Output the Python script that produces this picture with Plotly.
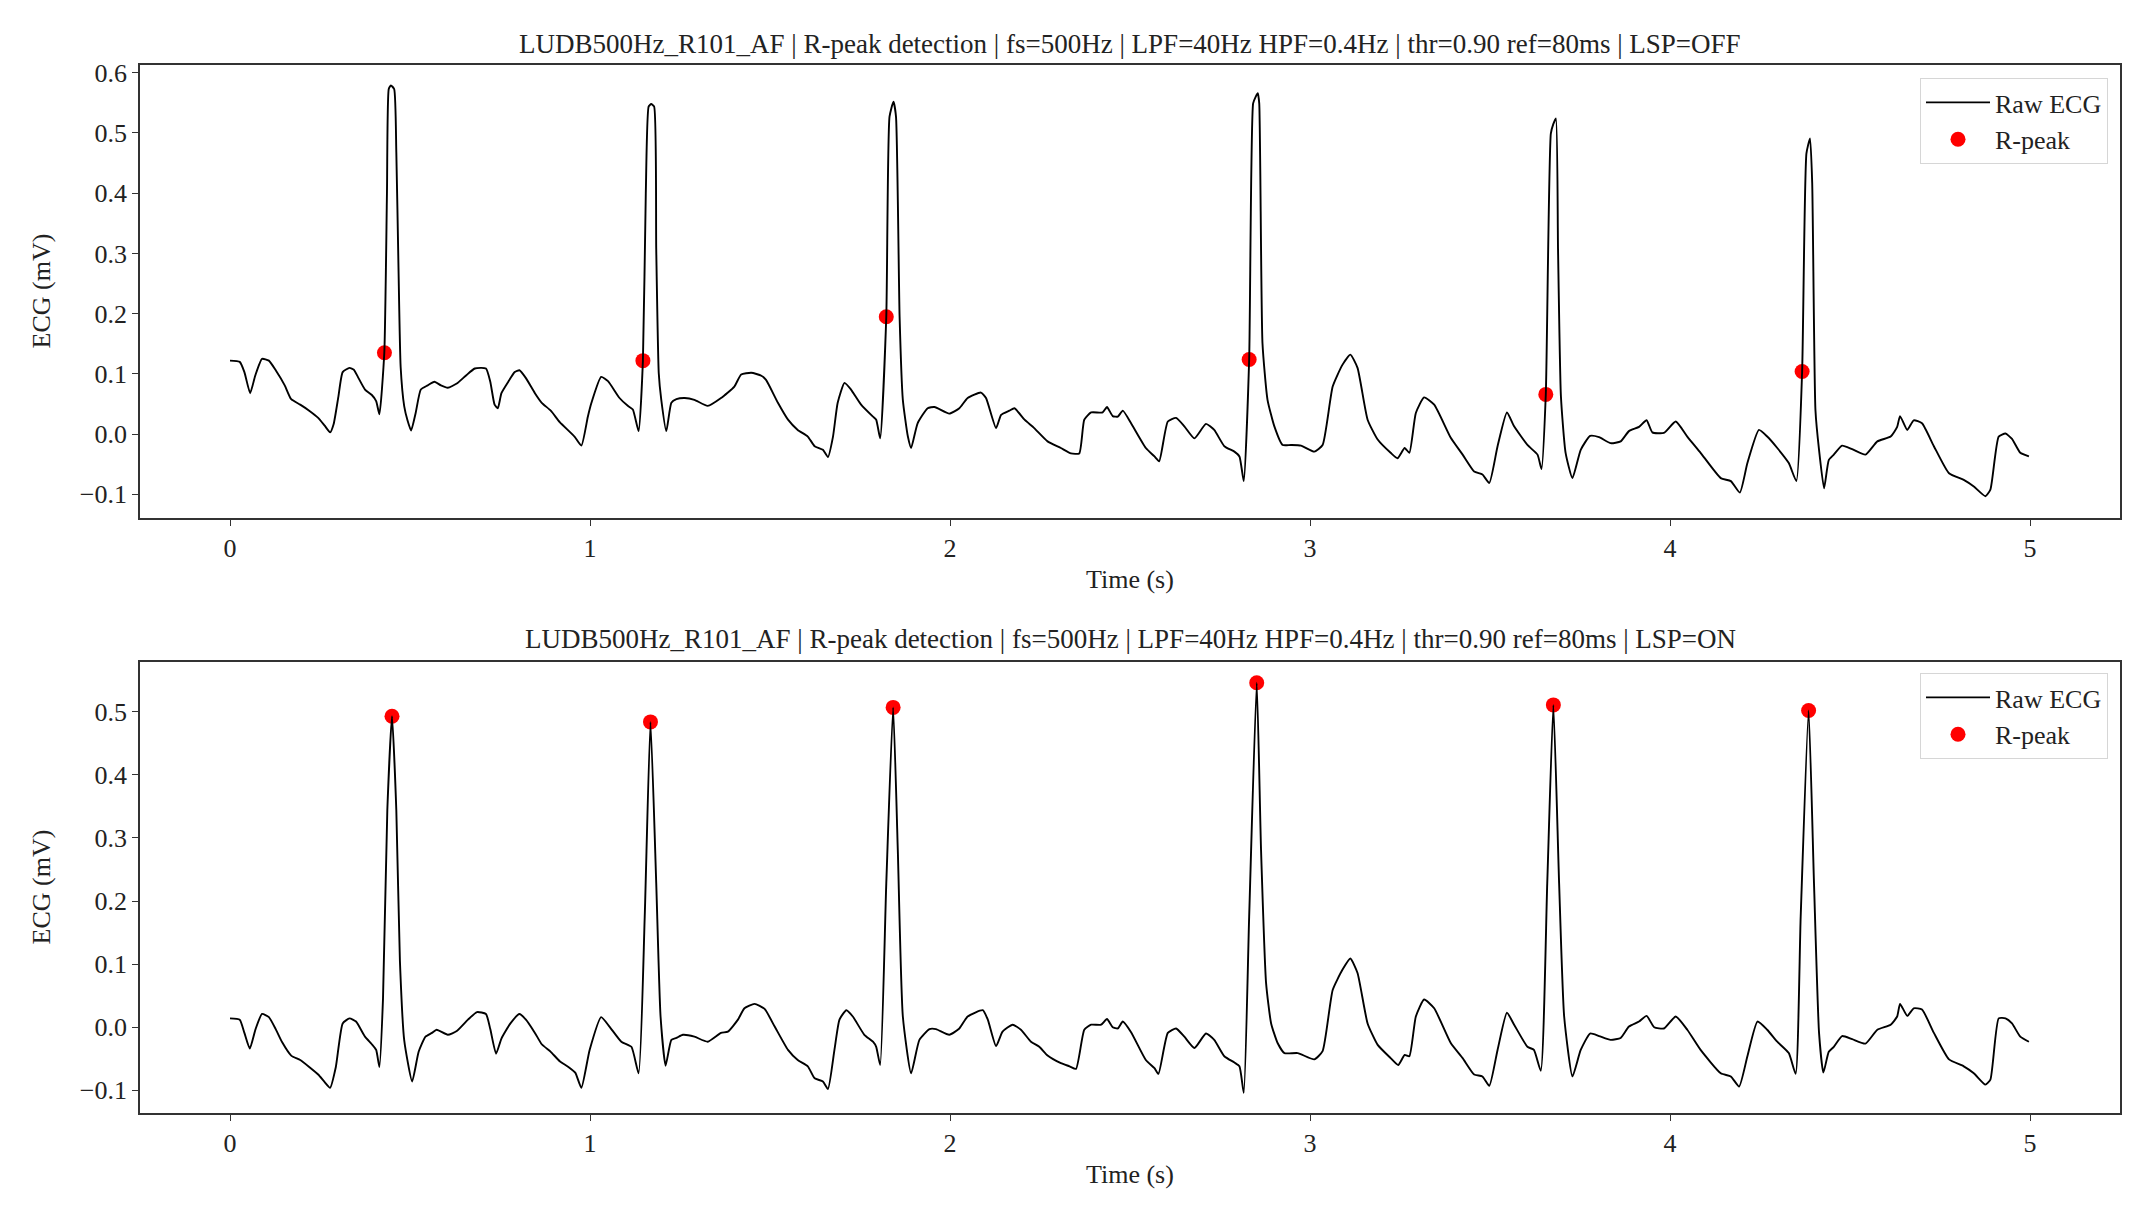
import plotly.graph_objects as go

# ---------------- data ----------------
title_top = "LUDB500Hz_R101_AF | R-peak detection | fs=500Hz | LPF=40Hz HPF=0.4Hz | thr=0.90 ref=80ms | LSP=OFF"
title_bot = "LUDB500Hz_R101_AF | R-peak detection | fs=500Hz | LPF=40Hz HPF=0.4Hz | thr=0.90 ref=80ms | LSP=ON"

t_top = [0.000, 0.027, 0.040, 0.056, 0.070, 0.089, 0.108, 0.127, 0.152, 0.170, 0.195, 0.220, 0.245, 0.263,
         0.278, 0.288, 0.301, 0.313, 0.332, 0.344, 0.357, 0.375, 0.394, 0.406, 0.415, 0.4286, 0.436, 0.441,
         0.447, 0.456, 0.462, 0.468, 0.474, 0.484, 0.493, 0.503, 0.516, 0.530, 0.549, 0.568, 0.586, 0.605,
         0.630, 0.655, 0.680, 0.711, 0.723, 0.735, 0.744, 0.754, 0.773, 0.791, 0.804, 0.822, 0.847, 0.866,
         0.891, 0.916, 0.957, 0.976, 0.994, 1.004, 1.031, 1.050, 1.082, 1.105, 1.119, 1.135, 1.147, 1.155,
         1.163, 1.170, 1.178, 1.184, 1.191, 1.198, 1.212, 1.226, 1.240, 1.263, 1.290, 1.327, 1.364, 1.401,
         1.420, 1.448, 1.476, 1.489, 1.522, 1.550, 1.577, 1.605, 1.624, 1.647, 1.661, 1.675, 1.688, 1.707,
         1.725, 1.753, 1.786, 1.795, 1.806, 1.823, 1.832, 1.843, 1.850, 1.860, 1.869, 1.883, 1.892, 1.910,
         1.938, 1.957, 1.998, 2.026, 2.049, 2.086, 2.100, 2.128, 2.142, 2.165, 2.179, 2.207, 2.234, 2.271,
         2.308, 2.336, 2.359, 2.373, 2.392, 2.424, 2.436, 2.452, 2.466, 2.480, 2.503, 2.544, 2.568, 2.581,
         2.605, 2.628, 2.651, 2.679, 2.711, 2.734, 2.762, 2.790, 2.804, 2.816, 2.831, 2.842, 2.849, 2.855,
         2.859, 2.868, 2.882, 2.901, 2.924, 2.947, 2.975, 3.012, 3.035, 3.063, 3.090, 3.112, 3.132, 3.160,
         3.188, 3.224, 3.243, 3.263, 3.276, 3.294, 3.317, 3.345, 3.391, 3.424, 3.456, 3.479, 3.498, 3.521,
         3.547, 3.567, 3.604, 3.632, 3.643, 3.655, 3.669, 3.676, 3.683, 3.689, 3.697, 3.710, 3.729, 3.752,
         3.778, 3.803, 3.835, 3.863, 3.886, 3.914, 3.935, 3.951, 3.983, 4.016, 4.048, 4.085, 4.141, 4.169,
         4.194, 4.215, 4.247, 4.270, 4.298, 4.330, 4.351, 4.367, 4.379, 4.389, 4.395, 4.404, 4.414, 4.428,
         4.441, 4.455, 4.478, 4.506, 4.543, 4.576, 4.613, 4.631, 4.639, 4.659, 4.677, 4.700, 4.733, 4.775,
         4.816, 4.844, 4.876, 4.890, 4.913, 4.932, 4.950, 4.973, 4.997]
v_top = [0.122, 0.120, 0.103, 0.068, 0.097, 0.125, 0.122, 0.106, 0.081, 0.058, 0.049, 0.039, 0.027, 0.014,
         0.003, 0.017, 0.062, 0.103, 0.110, 0.107, 0.093, 0.074, 0.065, 0.055, 0.033, 0.135, 0.400, 0.573,
         0.579, 0.573, 0.468, 0.277, 0.112, 0.046, 0.023, 0.006, 0.036, 0.074, 0.081, 0.087, 0.081, 0.077,
         0.084, 0.097, 0.109, 0.109, 0.087, 0.049, 0.043, 0.068, 0.087, 0.103, 0.106, 0.093, 0.068, 0.052,
         0.039, 0.020, -0.004, -0.019, 0.029, 0.052, 0.095, 0.088, 0.060, 0.047, 0.041, 0.005, 0.122, 0.400,
         0.544, 0.548, 0.544, 0.306, 0.101, 0.057, 0.005, 0.052, 0.058, 0.060, 0.057, 0.047, 0.060, 0.079,
         0.099, 0.102, 0.097, 0.090, 0.052, 0.024, 0.007, -0.004, -0.020, -0.026, -0.038, -0.004, 0.052, 0.085,
         0.074, 0.049, 0.029, 0.024, -0.007, 0.195, 0.527, 0.552, 0.527, 0.195, 0.057, -0.004, -0.023, 0.018,
         0.043, 0.045, 0.034, 0.043, 0.060, 0.069, 0.060, 0.010, 0.032, 0.039, 0.043, 0.024, 0.010, -0.012,
         -0.023, -0.032, -0.032, 0.024, 0.036, 0.036, 0.045, 0.030, 0.029, 0.039, 0.018, -0.023, -0.037, -0.045,
         0.021, 0.027, 0.013, -0.007, 0.017, 0.007, -0.020, -0.029, -0.037, -0.078, 0.124, 0.549, 0.560, 0.566,
         0.549, 0.151, 0.057, 0.013, -0.018, -0.018, -0.019, -0.029, -0.018, 0.079, 0.115, 0.132, 0.110, 0.024,
         -0.009, -0.031, -0.040, -0.023, -0.031, 0.035, 0.061, 0.049, -0.006, -0.034, -0.062, -0.067, -0.081, -0.020,
         0.036, 0.013, -0.018, -0.034, -0.058, 0.066, 0.499, 0.515, 0.524, 0.306, 0.063, -0.031, -0.073, -0.026,
         -0.003, -0.005, -0.015, -0.012, 0.005, 0.012, 0.023, 0.003, 0.002, 0.021, -0.004, -0.031, -0.073, -0.078,
         -0.097, -0.048, 0.007, -0.004, -0.023, -0.048, -0.078, 0.104, 0.466, 0.491, 0.417, 0.040, -0.026, -0.090,
         -0.043, -0.034, -0.019, -0.025, -0.034, -0.012, -0.004, 0.012, 0.030, 0.007, 0.023, 0.018, -0.020, -0.065,
         -0.076, -0.087, -0.103, -0.092, -0.004, 0.001, -0.008, -0.031, -0.037]

t_bot = [0.000, 0.027, 0.040, 0.055, 0.071, 0.089, 0.108, 0.127, 0.145, 0.170, 0.195, 0.220, 0.245, 0.263,
         0.278, 0.294, 0.313, 0.332, 0.350, 0.375, 0.394, 0.406, 0.415, 0.425, 0.437, 0.450, 0.462, 0.472,
         0.484, 0.506, 0.524, 0.543, 0.561, 0.574, 0.605, 0.630, 0.661, 0.686, 0.711, 0.723, 0.739, 0.754,
         0.779, 0.804, 0.822, 0.847, 0.866, 0.891, 0.916, 0.940, 0.959, 0.976, 0.999, 1.031, 1.054, 1.087,
         1.115, 1.135, 1.152, 1.168, 1.184, 1.196, 1.210, 1.226, 1.240, 1.258, 1.290, 1.327, 1.364, 1.383,
         1.411, 1.429, 1.457, 1.485, 1.513, 1.550, 1.577, 1.605, 1.624, 1.647, 1.661, 1.679, 1.693, 1.712,
         1.730, 1.762, 1.786, 1.795, 1.806, 1.823, 1.842, 1.855, 1.869, 1.892, 1.915, 1.943, 1.961, 1.998,
         2.026, 2.049, 2.091, 2.105, 2.128, 2.146, 2.174, 2.197, 2.225, 2.248, 2.271, 2.308, 2.332, 2.350,
         2.373, 2.392, 2.420, 2.436, 2.452, 2.466, 2.480, 2.503, 2.544, 2.568, 2.579, 2.605, 2.628, 2.651,
         2.679, 2.711, 2.734, 2.762, 2.790, 2.804, 2.816, 2.831, 2.852, 2.864, 2.878, 2.892, 2.910, 2.929,
         2.966, 3.012, 3.035, 3.063, 3.090, 3.112, 3.132, 3.160, 3.188, 3.224, 3.245, 3.263, 3.276, 3.294,
         3.317, 3.345, 3.391, 3.424, 3.456, 3.479, 3.498, 3.521, 3.547, 3.567, 3.604, 3.622, 3.641, 3.659,
         3.676, 3.692, 3.706, 3.729, 3.752, 3.778, 3.803, 3.835, 3.863, 3.886, 3.914, 3.935, 3.956, 3.983,
         4.016, 4.048, 4.085, 4.141, 4.169, 4.192, 4.215, 4.243, 4.270, 4.298, 4.330, 4.349, 4.363, 4.385,
         4.400, 4.414, 4.426, 4.441, 4.455, 4.478, 4.506, 4.543, 4.576, 4.613, 4.631, 4.639, 4.659, 4.677,
         4.700, 4.733, 4.775, 4.816, 4.844, 4.876, 4.890, 4.913, 4.932, 4.950, 4.973, 4.997]
v_bot = [0.014, 0.012, -0.009, -0.034, -0.003, 0.021, 0.016, -0.003, -0.024, -0.045, -0.052, -0.063, -0.075, -0.087,
         -0.096, -0.063, 0.006, 0.014, 0.009, -0.015, -0.027, -0.036, -0.063, 0.045, 0.344, 0.493, 0.344, 0.105,
         -0.021, -0.086, -0.039, -0.015, -0.009, -0.004, -0.012, -0.006, 0.012, 0.024, 0.021, -0.003, -0.042, -0.018,
         0.006, 0.021, 0.012, -0.009, -0.027, -0.039, -0.054, -0.063, -0.072, -0.096, -0.036, 0.016, 0.001, -0.023,
         -0.031, -0.073, 0.175, 0.484, 0.228, 0.017, -0.061, -0.020, -0.017, -0.012, -0.015, -0.023, -0.009, -0.007,
         0.012, 0.030, 0.037, 0.029, 0.001, -0.036, -0.052, -0.062, -0.081, -0.086, -0.098, -0.036, 0.012, 0.027,
         0.017, -0.012, -0.023, -0.031, -0.060, 0.228, 0.507, 0.281, 0.017, -0.073, -0.020, -0.003, -0.003, -0.012,
         -0.002, 0.017, 0.027, 0.012, -0.030, -0.007, 0.004, -0.004, -0.023, -0.031, -0.045, -0.057, -0.062, -0.066,
         -0.004, 0.004, 0.004, 0.013, 0.000, -0.002, 0.009, -0.008, -0.052, -0.065, -0.074, -0.009, -0.002, -0.015,
         -0.033, -0.010, -0.020, -0.046, -0.056, -0.062, -0.104, 0.175, 0.546, 0.281, 0.070, 0.006, -0.025, -0.041,
         -0.041, -0.051, -0.038, 0.059, 0.091, 0.109, 0.086, 0.006, -0.028, -0.049, -0.060, -0.044, -0.046, 0.017,
         0.044, 0.030, -0.025, -0.049, -0.075, -0.078, -0.093, -0.036, 0.023, 0.004, -0.031, -0.036, -0.069, 0.228,
         0.511, 0.228, 0.017, -0.078, -0.036, -0.010, -0.014, -0.020, -0.017, 0.001, 0.009, 0.018, 0.000, -0.002,
         0.017, -0.004, -0.036, -0.073, -0.078, -0.094, -0.046, 0.009, -0.004, -0.023, -0.041, -0.074, 0.175, 0.502,
         0.228, -0.009, -0.072, -0.039, -0.031, -0.014, -0.019, -0.026, -0.004, 0.004, 0.017, 0.037, 0.018, 0.030,
         0.028, -0.009, -0.051, -0.062, -0.073, -0.091, -0.083, 0.014, 0.014, 0.006, -0.015, -0.023]

peak_t_off = [0.429, 1.147, 1.823, 2.831, 3.655, 4.367]
peak_v_off = [0.135, 0.122, 0.195, 0.124, 0.066, 0.104]
peak_t_on = [0.450, 1.168, 1.842, 2.852, 3.676, 4.385]
peak_v_on = [0.493, 0.484, 0.507, 0.546, 0.511, 0.502]

x_ticks = [0, 1, 2, 3, 4, 5]
y_ticks_top = [-0.1, 0.0, 0.1, 0.2, 0.3, 0.4, 0.5, 0.6]
y_ticks_bot = [-0.1, 0.0, 0.1, 0.2, 0.3, 0.4, 0.5]

# ---------------- styling ----------------
FONT = "Liberation Serif"
FS = 26
FS_TITLE = 27
TXT = "#222222"
AX = "#333333"

def fmt(v):
    s = f"{v:.1f}"
    return s.replace("-", "\u2212")

fig = go.Figure()

line_style = dict(color="black", width=1.9, shape="spline", smoothing=0.5)

# markers first so the line is drawn over them (as in the reference)
fig.add_trace(go.Scatter(x=peak_t_off, y=peak_v_off, mode="markers", name="R-peak",
                         marker=dict(color="#ff0000", size=15), xaxis="x", yaxis="y",
                         legend="legend", legendrank=2))
fig.add_trace(go.Scatter(x=t_top, y=v_top, mode="lines", name="Raw ECG",
                         line=line_style, xaxis="x", yaxis="y",
                         legend="legend", legendrank=1))
fig.add_trace(go.Scatter(x=peak_t_on, y=peak_v_on, mode="markers", name="R-peak",
                         marker=dict(color="#ff0000", size=15), xaxis="x2", yaxis="y2",
                         legend="legend2", legendrank=2))
fig.add_trace(go.Scatter(x=t_bot, y=v_bot, mode="lines", name="Raw ECG",
                         line=line_style, xaxis="x2", yaxis="y2",
                         legend="legend2", legendrank=1))

xdom = [140 / 2146, 2120 / 2146]
ydom_top = [1 - 518 / 1215, 1 - 65 / 1215]
ydom_bot = [1 - 1113 / 1215, 1 - 662 / 1215]

axis_common = dict(showline=True, mirror=True, linecolor=AX, linewidth=1.6, ticks="outside",
                   ticklen=6, tickwidth=1.4, tickcolor=AX, showgrid=False, zeroline=False,
                   tickfont=dict(family=FONT, size=FS, color=TXT), automargin=False)

legend_common = dict(x=2108 / 2146, xanchor="right", yanchor="top",
                     bordercolor="#d6d6d6", borderwidth=1, bgcolor="rgba(255,255,255,0.85)",
                     font=dict(family=FONT, size=FS, color=TXT), itemwidth=64,
                     traceorder="normal", tracegroupgap=4)

fig.update_layout(
    width=2146, height=1215,
    margin=dict(l=0, r=0, t=0, b=0),
    paper_bgcolor="white", plot_bgcolor="white",
    font=dict(family=FONT, size=FS, color=TXT),
    xaxis=dict(domain=xdom, anchor="y", range=[-0.25, 5.25], tickvals=x_ticks,
               ticktext=[str(v) for v in x_ticks], **axis_common),
    yaxis=dict(domain=ydom_top, anchor="x", range=[-0.1392, 0.6128], tickvals=y_ticks_top,
               ticktext=[fmt(v) for v in y_ticks_top], **axis_common),
    xaxis2=dict(domain=xdom, anchor="y2", range=[-0.25, 5.25], tickvals=x_ticks,
                ticktext=[str(v) for v in x_ticks], **axis_common),
    yaxis2=dict(domain=ydom_bot, anchor="x2", range=[-0.136, 0.579], tickvals=y_ticks_bot,
                ticktext=[fmt(v) for v in y_ticks_bot], **axis_common),
    legend=dict(y=1 - 78 / 1215, **legend_common),
    legend2=dict(y=1 - 673 / 1215, **legend_common),
    showlegend=True,
)

xc = (xdom[0] + xdom[1]) / 2
annots = [
    dict(text=title_top, x=xc, y=1 - 44 / 1215, size=FS_TITLE),
    dict(text=title_bot, x=xc, y=1 - 639 / 1215, size=FS_TITLE),
    dict(text="Time (s)", x=xc, y=1 - 579 / 1215, size=FS),
    dict(text="Time (s)", x=xc, y=1 - 1174 / 1215, size=FS),
    dict(text="ECG (mV)", x=41 / 2146, y=(ydom_top[0] + ydom_top[1]) / 2, textangle=-90, size=FS),
    dict(text="ECG (mV)", x=41 / 2146, y=(ydom_bot[0] + ydom_bot[1]) / 2, textangle=-90, size=FS),
]
for a in annots:
    sz = a.pop("size")
    fig.add_annotation(xref="paper", yref="paper", showarrow=False, xanchor="center",
                       yanchor="middle", font=dict(family=FONT, size=sz, color=TXT), **a)

fig.write_html("out.html")
